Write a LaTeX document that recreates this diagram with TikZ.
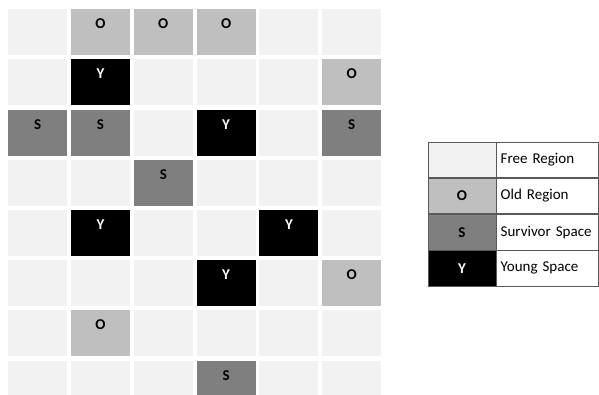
\documentclass[tikz,border=0pt]{standalone}
\usepackage{fontspec}
\setmainfont{Carlito}
\usetikzlibrary{positioning}
\definecolor{freegray}{HTML}{F2F2F2}
\definecolor{oldgray}{HTML}{BFBFBF}
\definecolor{survgray}{HTML}{7F7F7F}
\definecolor{younggray}{HTML}{000000}
\definecolor{edgegray}{HTML}{595959}

\begin{document}
\begin{tikzpicture}[x=1pt, y=-1pt,
    cell/.style={rectangle, anchor=north west, minimum width=59pt, inner sep=0pt, text height=19.5pt, text depth=26.5pt, fill=freegray, font=\bfseries\fontsize{15}{17}\selectfont},
    old/.style={cell, fill=oldgray},
    surv/.style={cell, fill=survgray},
    young/.style={cell, fill=younggray, text=white},
    key/.style={rectangle, draw=edgegray, line width=0.7pt, minimum width=68pt, minimum height=35.5pt, inner sep=0pt, font=\bfseries\fontsize{15}{17}\selectfont},
    keytext/.style={rectangle, draw=edgegray, line width=0.7pt, minimum height=35.5pt, text width=94pt, inner xsep=4pt, inner ysep=0pt, align=left, fill=white, font=\fontsize{15}{17}\selectfont}
]
    \clip (0,0) rectangle (599,394);

    % Free regions
    \foreach \r in {0,...,7}
        \foreach \c in {0,...,5}
            \node[cell] (f\r\c) at ({8+62.8*\c},{9+50.2*\r}) {};

    % Occupied regions
    \foreach \r/\c/\kind/\txt in {0/1/old/O, 0/2/old/O, 0/3/old/O,
                                  1/1/young/Y, 1/5/old/O,
                                  2/0/surv/S, 2/1/surv/S, 2/3/young/Y, 2/5/surv/S,
                                  3/2/surv/S,
                                  4/1/young/Y, 4/4/young/Y,
                                  5/3/young/Y, 5/5/old/O,
                                  6/1/old/O,
                                  7/3/surv/S}
        \node[\kind] (\kind\r\c) at ({8+62.8*\c},{9+50.2*\r}) {\txt};

    % Legend
    \node[key, fill=freegray] (kfree) at (462,159.75) {};
    \node[key, fill=oldgray, below=0pt of kfree] (kold) {O};
    \node[key, fill=survgray, below=0pt of kold] (ksurv) {S};
    \node[key, fill=younggray, text=white, below=0pt of ksurv] (kyoung) {Y};

    \node[keytext, right=0pt of kfree] (tfree) {Free Region};
    \node[keytext, right=0pt of kold] (told) {Old Region};
    \node[keytext, right=0pt of ksurv] (tsurv) {Survivor Space};
    \node[keytext, right=0pt of kyoung] (tyoung) {Young Space};

\end{tikzpicture}
\end{document}
